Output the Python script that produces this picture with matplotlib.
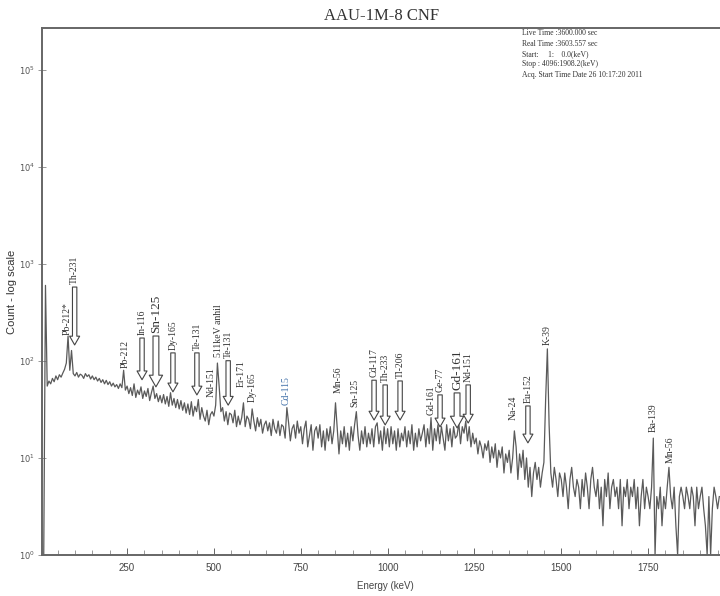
import numpy as np
import matplotlib
matplotlib.use("Agg")
import matplotlib.pyplot as plt

# gamma spectrum, 5 keV bins (counts)
energy_step = 5
counts = [
    1, 1, 1, 600, 55, 62, 58, 66, 61, 70,
    64, 72, 68, 75, 82, 95, 180, 80, 128, 74,
    70, 76, 68, 73, 71, 66, 74, 69, 72, 65,
    70, 64, 68, 62, 66, 60, 64, 58, 63, 57,
    61, 55, 59, 54, 57, 52, 58, 53, 80, 50,
    55, 46, 53, 44, 58, 42, 50, 45, 54, 41,
    49, 43, 52, 39, 47, 55, 41, 46, 38, 44,
    37, 45, 36, 43, 34, 47, 35, 41, 33, 40,
    32, 39, 31, 37, 29, 36, 28, 38, 27, 34,
    30, 40, 25, 33, 27, 24, 31, 22, 28, 30,
    27, 35, 95, 55, 30, 33, 24, 30, 22, 29,
    28, 23, 31, 21, 27, 22, 26, 37, 21, 27,
    25, 20, 32, 24, 19, 26, 21, 25, 18, 22,
    24, 19, 23, 17, 25, 20, 18, 24, 17, 22,
    21, 16, 33, 23, 15, 20, 22, 16, 24, 18,
    21, 14, 20, 24, 13, 17, 22, 12, 19, 21,
    16, 22, 13, 19, 12, 20, 15, 21, 14, 19,
    37, 20, 11, 19, 14, 21, 13, 18, 12, 21,
    15, 22, 30, 17, 12, 19, 14, 21, 13, 18,
    14, 20, 13, 21, 23, 14, 19, 12, 21, 14,
    20, 13, 21, 14, 19, 12, 20, 13, 18, 15,
    21, 13, 19, 14, 22, 12, 18, 13, 20, 15,
    18, 22, 13, 20, 14, 26, 12, 20, 15, 22,
    14, 21, 16, 12, 22, 15, 20, 13, 21, 16,
    17, 23, 14, 21, 18, 24, 15, 21, 13, 18,
    14, 16, 11, 15, 13, 10, 14, 12, 15, 9,
    13, 10, 14, 8, 12, 10, 13, 7, 11, 9,
    12, 7, 10, 19, 13, 6, 11, 8, 12, 6,
    10, 5, 8, 4, 7, 9, 6, 8, 5, 7,
    9, 40, 133, 22, 7, 5, 8, 6, 4, 7,
    6, 4, 7, 5, 3, 6, 8, 5, 4, 6,
    5, 3, 6, 4, 7, 5, 3, 6, 8, 5,
    4, 6, 3, 5, 2, 6, 4, 7, 3, 5,
    6, 4, 5, 3, 6, 2, 5, 4, 6, 3,
    5, 4, 6, 3, 5, 2, 4, 6, 3, 5,
    4, 3, 5, 16, 1, 4, 3, 5, 2, 4,
    3, 5, 8, 4, 3, 5, 2, 1, 4, 5,
    4, 3, 5, 4, 3, 5, 4, 2, 5, 3,
    4, 5, 3, 2, 1, 4, 1, 3, 5, 4,
    3, 4,
]
energy = np.arange(len(counts)) * energy_step

# peak labels: name, energy (keV), count at text base, arrow tip count (None = no arrow)
label_names = ["Pb-212*", "Th-231", "Pb-212", "In-116", "Sn-125", "Dy-165", "Te-131",
               "Nd-151", "511keV anhil", "Te-131", "Er-171", "Dy-165", "Cd-115",
               "Mn-56", "Sn-125", "Cd-117", "Th-233", "Tl-206", "Gd-161", "Ge-77",
               "Gd-161", "Nd-151", "Na-24", "Eu-152", "K-39", "Ba-139", "Mn-56"]
label_energy = [77, 99, 244, 293, 333, 382, 451, 492, 512, 541, 578, 610, 708,
                857, 906, 961, 993, 1036, 1125, 1151, 1200, 1232, 1361, 1404, 1459,
                1764, 1813]
label_base = [185, 620, 85, 185, 194, 130, 130, 42.5, 110, 108, 54, 37.8, 35,
              46.8, 33.6, 68, 60.8, 66.8, 27.7, 48, 50.3, 60.8, 24.6, 36.9, 146,
              18.5, 8.9]
arrow_tip = [None, 146, None, 64, 54, 48, 44.6, None, None, 35, None, None, None,
             None, None, 24.6, 21.9, 24.6, None, 20.9, 20.4, 22.9, None, 14.3, None,
             None, None]
big_labels = {4, 20}

info_lines = ["Live Time :3600.000 sec",
              "Real Time :3603.557 sec",
              "Start:     1:    0.0(keV)",
              "Stop : 4096:1908.2(keV)",
              "Acq. Start Time Date 26 10:17:20 2011"]

W, H = 720, 596
fig = plt.figure(figsize=(W / 100, H / 100), dpi=100)
ax = fig.add_axes([42 / W, 41 / H, 1 - 42 / W, (555 - 28) / H])

ax.plot(energy, counts, color="#5a5a5a", lw=0.9)
ax.set_yscale("log")
ax.set_xlim(5, 1957)
ax.set_ylim(1, 10 ** 5.43)

ax.set_xticks([250, 500, 750, 1000, 1250, 1500, 1750])
ax.set_xticks(np.arange(50, 1957, 50), minor=True)
ax.set_yticks([1, 10, 100, 1000, 10000, 100000])
ax.yaxis.set_minor_locator(matplotlib.ticker.NullLocator())
ax.tick_params(axis="x", which="major", direction="in", length=5, width=0.7,
               color="#666", labelsize=7, labelcolor="#444", pad=6)
ax.tick_params(axis="x", which="minor", direction="in", length=3.5, width=0.6, color="#888")
ax.tick_params(axis="y", direction="inout", length=6, width=0.6, color="#888",
               labelsize=6, labelcolor="#555", pad=2)
for lbl in ax.get_xticklabels():
    lbl.set_family("Liberation Sans")

for side in ("left", "top", "bottom"):
    ax.spines[side].set_color("#666")
    ax.spines[side].set_linewidth(1.4)
ax.spines["right"].set_visible(False)

for i, name in enumerate(label_names):
    e = label_energy[i]
    big = i in big_labels
    color = "#3f6fa8" if name == "Cd-115" else "#333333"
    ax.text(e, label_base[i], name, rotation=90, ha="center", va="bottom",
            fontsize=9.5 if big else 7, family="Liberation Serif", color=color)
    if arrow_tip[i] is not None:
        top = label_base[i] * 0.93
        ax.annotate("", xy=(e, arrow_tip[i]), xytext=(e, top),
                    arrowprops=dict(arrowstyle="simple,head_length=0.7,head_width=0.8,tail_width=0.35",
                                    fc="white", ec="#444", lw=0.8, shrinkA=0, shrinkB=0,
                                    mutation_scale=12 if big else 9))

fig.text(382 / W, 1 - 20 / H, "AAU-1M-8 CNF", ha="center", va="baseline",
         fontsize=12, family="Liberation Serif", color="#333")
for k, line in enumerate(info_lines):
    fig.text(522 / W, 1 - (33 + 10.5 * k) / H, line, ha="left", va="center",
             fontsize=5.5, family="Liberation Serif", color="#333")

fig.text(12 / W, 1 - 292 / H, "Count - log scale", rotation=90, ha="center", va="center",
         fontsize=8, family="Liberation Sans", color="#333")
fig.text(385 / W, 1 - 586 / H, "Energy (keV)", ha="center", va="center",
         fontsize=7, family="Liberation Sans", color="#444")

fig.savefig("out.png", dpi=100)
